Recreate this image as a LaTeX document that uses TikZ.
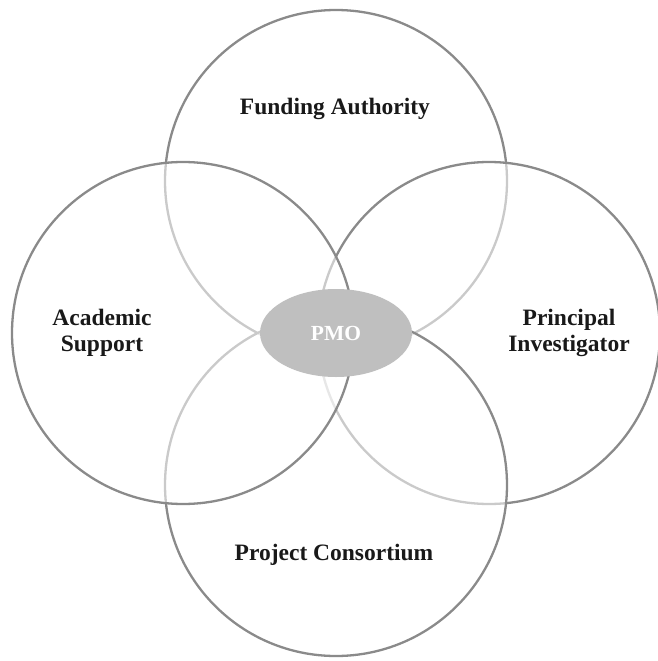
\documentclass[tikz,border=0pt]{standalone}
\usepackage{fontspec}
\setmainfont{Liberation Serif}
\usetikzlibrary{shapes.geometric}
\begin{document}
\begin{tikzpicture}[x=1pt,y=-1pt,
  ring/.style={circle, draw=black!46, line width=2.3pt, fill=white, fill opacity=0.55, minimum size=342pt, inner sep=0pt},
  lbl/.style={font=\bfseries\fontsize{23.5}{26}\selectfont, align=center, text=black!90}]
\useasboundingbox (0,0) rectangle (657,661);
\node[ring] (top) at (336,181) {};
\node[ring] (right) at (489,333) {};
\node[ring] (bottom) at (336,485) {};
\node[ring] (left) at (183,333) {};
\node[ellipse, fill=black!25, minimum width=152pt, minimum height=88pt, inner sep=0pt,
  font=\bfseries\fontsize{21.5}{24}\selectfont, text=white] (pmo) at (336,333) {PMO};
\node[lbl] (fa) at (335,109) {Funding Authority};
\node[lbl] (as) at (102,333) {Academic\\Support};
\node[lbl] (pi) at (569,333) {Principal\\Investigator};
\node[lbl] (pc) at (334,555) {Project Consortium};
\end{tikzpicture}
\end{document}
